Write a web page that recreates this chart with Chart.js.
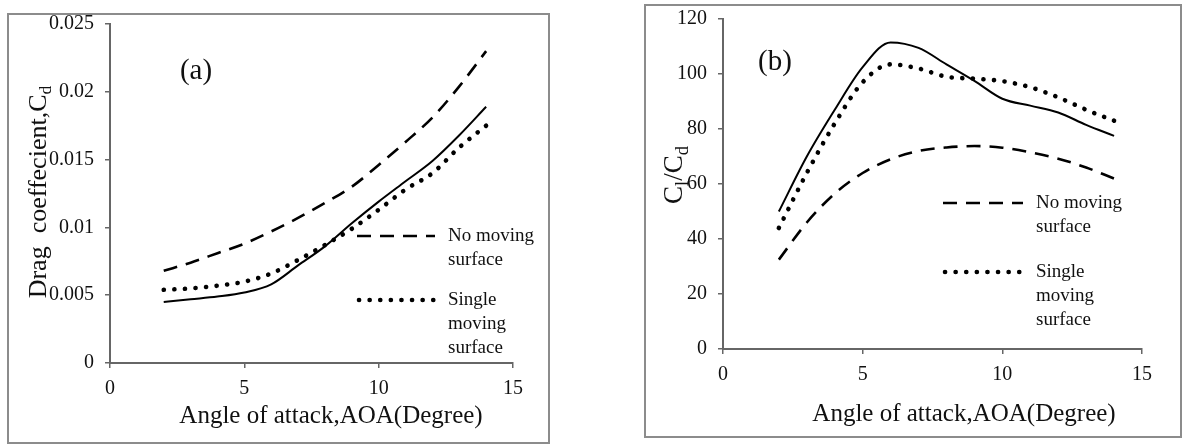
<!DOCTYPE html>
<html>
<head>
<meta charset="utf-8">
<script src="https://cdn.jsdelivr.net/npm/chart.js@4.4.0/dist/chart.umd.min.js"></script>
<style>
  body { margin: 0; background: #fff; width: 1184px; height: 445px; position: relative; overflow: hidden; }
  .frame { position: absolute; box-sizing: border-box; border: 2px solid #8c8c8c; }
  .frame div { position: relative; width: 100%; height: 100%; }
  #frameA { left: 7px; top: 13px; width: 543px; height: 431px; }
  #frameB { left: 644px; top: 4px; width: 538px; height: 434px; }
</style>
</head>
<body>
<div class="frame" id="frameA"><div><canvas id="chartA"></canvas></div></div>
<div class="frame" id="frameB"><div><canvas id="chartB"></canvas></div></div>
<script>
// angle of attack (degrees)
const aoa = [2, 3, 4, 5, 6, 7, 8, 9, 10, 11, 12, 13, 14];

// (a) drag coefficient Cd
const cdSolid     = [0.0045, 0.0047, 0.0049, 0.0052, 0.0058, 0.0072, 0.0086, 0.0103, 0.0119, 0.0134, 0.0149, 0.0168, 0.0189];
const cdNoMoving  = [0.0068, 0.0074, 0.0081, 0.0088, 0.0097, 0.0107, 0.0118, 0.0130, 0.0146, 0.0163, 0.0181, 0.0204, 0.0230];
const cdSingle    = [0.0054, 0.0055, 0.0057, 0.0060, 0.0066, 0.0076, 0.0087, 0.0099, 0.0113, 0.0128, 0.0140, 0.0159, 0.0175];

// (b) lift to drag ratio Cl/Cd
const ldSolid     = [50, 70, 87, 102.5, 111.5, 109.5, 103.5, 97.5, 91, 88.5, 86, 81.5, 77.5];
const ldNoMoving  = [32.5, 46, 56.5, 64, 69, 72, 73.3, 73.8, 73.2, 71.5, 69.2, 66, 62];
const ldSingle    = [44, 64, 82, 97, 103.5, 102, 99, 98.3, 97.4, 95.2, 91.5, 87, 83];

const xTicks  = ['0', '5', '10', '15'];
const yTicksA = ['0', '0.005', '0.01', '0.015', '0.02', '0.025'];
const yTicksB = ['0', '20', '40', '60', '80', '100', '120'];

const legendNames = [['No moving', 'surface'], ['Single', 'moving', 'surface']];

const SERIF = '"Liberation Serif", "Times New Roman", serif';
const DASH = [14, 9];
const DOTS = [0.1, 10.5];

function pts(ys) {
    return aoa.map((x, i) => ({ x: x, y: ys[i] }));
}

function lineSet(ys, kind) {
    let ds = {
        data: pts(ys),
        borderColor: '#000',
        pointRadius: 0,
        fill: false,
        cubicInterpolationMode: 'monotone',
        borderWidth: 2
    };
    if (kind === 'dash') {
        ds.borderDash = DASH;
        ds.borderWidth = 2.6;
    }
    if (kind === 'dot') {
        ds.borderDash = DOTS;
        ds.borderWidth = 4.6;
        ds.borderCapStyle = 'round';
    }
    return ds;
}

// draw a string made of parts, some of them subscript; x is the left edge
function richWidth(ctx, parts, size) {
    let w = 0;
    parts.forEach(p => {
        ctx.font = (p.sub ? size * 0.68 : size) + 'px ' + SERIF;
        w += ctx.measureText(p.t).width;
    });
    return w;
}

function richText(ctx, parts, x, y, size) {
    parts.forEach(p => {
        let s = p.sub ? size * 0.68 : size;
        ctx.font = s + 'px ' + SERIF;
        ctx.fillText(p.t, x, p.sub ? y + size * 0.3 : y);
        x += ctx.measureText(p.t).width;
    });
}

// titles, panel letter and the legend drawn on top of the chart
function decor(o) {
    return {
        id: 'decor',
        afterDraw(chart) {
            const ctx = chart.ctx;
            ctx.save();
            ctx.fillStyle = '#111';
            ctx.textBaseline = 'middle';
            ctx.textAlign = 'left';

            // x title
            ctx.font = o.xTitleSize + 'px ' + SERIF;
            ctx.textAlign = 'center';
            ctx.fillText('Angle of attack,AOA(Degree)', o.xTitle[0], o.xTitle[1]);
            ctx.textAlign = 'left';

            // y title, rotated
            ctx.save();
            ctx.translate(o.yTitle[0], o.yTitle[1]);
            ctx.rotate(-Math.PI / 2);
            let w = richWidth(ctx, o.yParts, o.yTitleSize);
            richText(ctx, o.yParts, -w / 2, 0, o.yTitleSize);
            ctx.restore();

            // panel letter
            ctx.font = '29px ' + SERIF;
            ctx.textAlign = 'center';
            ctx.fillText(o.letter, o.letterPos[0], o.letterPos[1]);
            ctx.textAlign = 'left';

            // legend
            ctx.strokeStyle = '#000';
            o.legend.forEach((it, k) => {
                ctx.beginPath();
                if (k === 0) {
                    ctx.setLineDash(DASH);
                    ctx.lineWidth = 2.6;
                    ctx.lineCap = 'butt';
                } else {
                    ctx.setLineDash(DOTS);
                    ctx.lineWidth = 4.6;
                    ctx.lineCap = 'round';
                }
                ctx.moveTo(it.x0, it.y);
                ctx.lineTo(it.x1, it.y);
                ctx.stroke();
                ctx.font = o.legendSize + 'px ' + SERIF;
                legendNames[k].forEach((line, j) => {
                    ctx.fillText(line, o.legendTextX, it.y + j * o.legendLead);
                });
            });
            ctx.restore();
        }
    };
}

function scaleOpts(yMax, yStep, yLabels, yWidth, xHeight) {
    const tickFont = { family: SERIF, size: 20 };
    return {
        x: {
            type: 'linear',
            min: 0,
            max: 15,
            ticks: { stepSize: 5, color: '#111', font: tickFont, padding: 9, maxRotation: 0,
                     callback: v => xTicks[Math.round(v / 5)] },
            grid: { drawOnChartArea: false, tickLength: 5, color: '#666', lineWidth: 1.5 },
            border: { color: '#666', width: 2 },
            afterFit: s => {
                s.height = xHeight;
                s.paddingLeft = 0;
                s.paddingRight = 0;
            }
        },
        y: {
            min: 0,
            max: yMax,
            ticks: { stepSize: yStep, color: '#111', font: tickFont, padding: 11,
                     callback: v => yLabels[Math.round(v / yStep)] },
            grid: { drawOnChartArea: false, tickLength: 5, color: '#666', lineWidth: 1.5 },
            border: { color: '#666', width: 2 },
            afterFit: s => {
                s.width = yWidth;
                s.paddingTop = 0;
                s.paddingBottom = 0;
            }
        }
    };
}

function baseOptions(pad, scales) {
    return {
        responsive: true,
        maintainAspectRatio: false,
        animation: false,
        layout: { padding: pad },
        plugins: { legend: { display: false }, tooltip: { enabled: false } },
        scales: scales
    };
}

new Chart(document.getElementById('chartA'), {
    type: 'line',
    data: {
        datasets: [
            lineSet(cdSolid, 'solid'),
            lineSet(cdNoMoving, 'dash'),
            lineSet(cdSingle, 'dot')
        ]
    },
    options: baseOptions({ top: 9, right: 35, left: 0, bottom: 0 },
                         scaleOpts(0.025, 0.005, yTicksA, 101, 79)),
    plugins: [decor({
        xTitle: [322, 401], xTitleSize: 25,
        yTitle: [30, 177], yTitleSize: 26,
        yParts: [{ t: 'Drag  coeffecient,C' }, { t: 'd', sub: true }],
        letter: '(a)', letterPos: [187, 56],
        legendSize: 19, legendLead: 24, legendTextX: 439,
        legend: [{ x0: 348, x1: 426, y: 221 }, { x0: 350, x1: 430, y: 285 }]
    })]
});

new Chart(document.getElementById('chartB'), {
    type: 'line',
    data: {
        datasets: [
            lineSet(ldSolid, 'solid'),
            lineSet(ldNoMoving, 'dash'),
            lineSet(ldSingle, 'dot')
        ]
    },
    options: baseOptions({ top: 13, right: 38, left: 0, bottom: 0 },
                         scaleOpts(120, 20, yTicksB, 77, 87)),
    plugins: [decor({
        xTitle: [318, 408], xTitleSize: 25,
        yTitle: [29, 169], yTitleSize: 27,
        yParts: [{ t: 'C' }, { t: 'l', sub: true }, { t: '/C' }, { t: 'd', sub: true }],
        letter: '(b)', letterPos: [129, 56],
        legendSize: 19, legendLead: 24, legendTextX: 390,
        legend: [{ x0: 297, x1: 377, y: 197 }, { x0: 299, x1: 381, y: 266 }]
    })]
});
</script>
</body>
</html>
